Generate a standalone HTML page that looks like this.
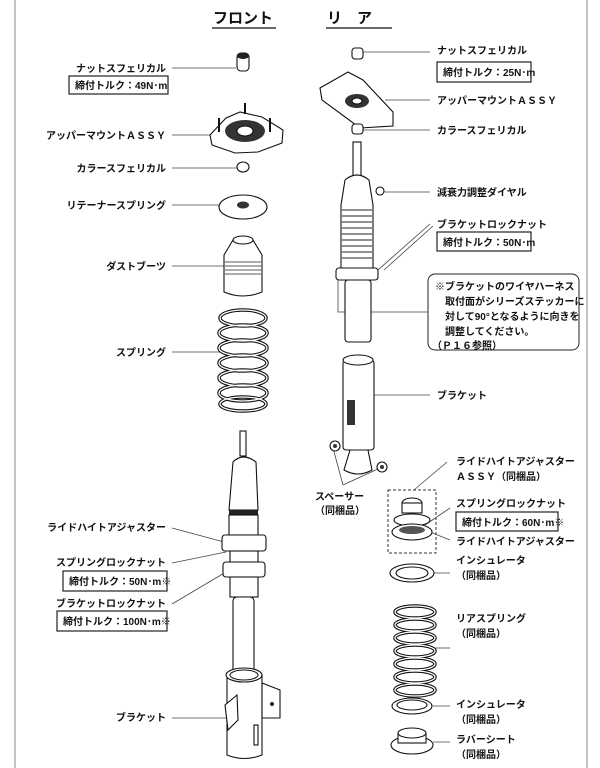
<!DOCTYPE html>
<html><head><meta charset="utf-8"><style>
html,body{margin:0;padding:0;background:#fff;}
svg{display:block}
text{font-family:"Liberation Sans","Noto Sans CJK JP",sans-serif;font-size:10px;fill:#111;font-weight:bold}
.p{fill:#fff;stroke:#111;stroke-width:1.1}
.l{stroke:#444;stroke-width:0.8;fill:none}
.b{fill:#fff;stroke:#222;stroke-width:1.2}
</style></head><body>
<svg width="600" height="768" viewBox="0 0 600 768" xmlns="http://www.w3.org/2000/svg">
<line x1="15" y1="0" x2="15" y2="768" stroke="#888" stroke-width="1"/>
<line x1="587" y1="0" x2="587" y2="768" stroke="#888" stroke-width="1"/>
<text x="213" y="23" style="font-size:15px">フロント</text>
<line x1="212" y1="28" x2="276" y2="28" stroke="#111" stroke-width="1.2"/>
<text x="327" y="23" style="font-size:15px">リ　ア</text>
<line x1="326" y1="28" x2="392" y2="28" stroke="#111" stroke-width="1.2"/>

<!-- LEFT labels -->
<text x="166" y="72" text-anchor="end">ナットスフェリカル</text>
<line class="l" x1="172" y1="68" x2="236" y2="68"/>
<rect class="b" x="69" y="76" width="99" height="18"/><text x="75" y="89">締付トルク：49N･m</text>
<text x="166" y="139" text-anchor="end">アッパーマウントＡＳＳＹ</text>
<line class="l" x1="172" y1="135" x2="210" y2="135"/>
<text x="166" y="172" text-anchor="end">カラースフェリカル</text>
<line class="l" x1="172" y1="168" x2="237" y2="168"/>
<text x="166" y="209" text-anchor="end">リテーナースプリング</text>
<line class="l" x1="172" y1="205" x2="220" y2="205"/>
<text x="166" y="270" text-anchor="end">ダストブーツ</text>
<line class="l" x1="172" y1="266" x2="226" y2="266"/>
<text x="166" y="356" text-anchor="end">スプリング</text>
<line class="l" x1="172" y1="352" x2="220" y2="352"/>
<text x="166" y="531" text-anchor="end">ライドハイトアジャスター</text>
<line class="l" x1="172" y1="528" x2="224" y2="542"/>
<text x="166" y="566" text-anchor="end">スプリングロックナット</text>
<line class="l" x1="172" y1="563" x2="226" y2="552"/>
<rect class="b" x="63" y="571" width="104" height="20"/><text x="69" y="585">締付トルク：50N･m※</text>
<text x="166" y="607" text-anchor="end">ブラケットロックナット</text>
<line class="l" x1="172" y1="604" x2="226" y2="572"/>
<rect class="b" x="57" y="611" width="110" height="20"/><text x="63" y="625">締付トルク：100N･m※</text>
<text x="166" y="721" text-anchor="end">ブラケット</text>
<line class="l" x1="172" y1="718" x2="236" y2="718"/>

<!-- LEFT parts -->
<rect class="p" x="237" y="53" width="12" height="18" rx="4"/>
<ellipse cx="243" cy="56" rx="6" ry="3" fill="#222"/>
<path class="p" d="M210 135 L226 118 L240 112 L262 117 L283 130 L282 143 L258 152 L235 153 L212 145 Z"/>
<ellipse cx="245" cy="131" rx="20" ry="11" fill="#333"/><ellipse cx="245" cy="131" rx="8" ry="5" class="p"/>
<line x1="219" y1="118" x2="219" y2="132" stroke="#111" stroke-width="2"/>
<line x1="270" y1="118" x2="270" y2="132" stroke="#111" stroke-width="2"/>
<line x1="245" y1="103" x2="245" y2="114" stroke="#111" stroke-width="2"/>
<ellipse class="p" cx="243" cy="167" rx="6" ry="5"/>
<ellipse class="p" cx="243" cy="207" rx="24" ry="12"/><ellipse cx="243" cy="205" rx="6" ry="3.5" fill="#333"/>
<path class="p" d="M233 240 L253 240 L262 255 L262 292 Q243 300 224 292 L224 255 Z"/>
<ellipse class="p" cx="243" cy="240" rx="10" ry="4"/>
<g stroke="#222" stroke-width="0.8">
<line x1="225" y1="262" x2="261" y2="262"/><line x1="225" y1="266" x2="261" y2="266"/><line x1="225" y1="270" x2="261" y2="270"/><line x1="225" y1="274" x2="261" y2="274"/></g>
<g fill="none" stroke="#111" stroke-width="3.5">
<ellipse cx="243" cy="318" rx="23" ry="8"/><ellipse cx="243" cy="333" rx="24" ry="8"/>
<ellipse cx="243" cy="348" rx="24" ry="8"/><ellipse cx="243" cy="363" rx="24" ry="8"/>
<ellipse cx="243" cy="378" rx="24" ry="8"/><ellipse cx="243" cy="393" rx="24" ry="8"/>
<ellipse cx="243" cy="404" rx="23" ry="7"/></g>
<g fill="none" stroke="#fff" stroke-width="1.3">
<ellipse cx="243" cy="318" rx="23" ry="8"/><ellipse cx="243" cy="333" rx="24" ry="8"/><ellipse cx="243" cy="348" rx="24" ry="8"/><ellipse cx="243" cy="363" rx="24" ry="8"/><ellipse cx="243" cy="378" rx="24" ry="8"/><ellipse cx="243" cy="393" rx="24" ry="8"/><ellipse cx="243" cy="404" rx="23" ry="7"/></g>
<!-- front shock -->
<rect class="p" x="240" y="431" width="6" height="25"/>
<path class="p" d="M233 462 Q243 452 256 462 L258 510 L229 510 Z"/>
<rect x="229" y="510" width="29" height="5" fill="#222"/>
<rect class="p" x="229" y="515" width="29" height="20"/>
<rect class="p" x="222" y="535" width="44" height="16" rx="3"/>
<rect class="p" x="230" y="551" width="28" height="11"/>
<rect class="p" x="223" y="562" width="42" height="15" rx="3"/>
<rect class="p" x="230" y="577" width="28" height="20"/>
<rect class="p" x="233" y="597" width="21" height="83" rx="4"/>
<rect class="p" x="238" y="680" width="10" height="5"/>
<!-- bracket -->
<path class="p" d="M227 675 L262 675 L262 755 Q244 762 227 755 Z"/>
<ellipse class="p" cx="244" cy="675" rx="18" ry="7"/><ellipse class="p" cx="244" cy="675" rx="14" ry="5"/>
<path class="p" d="M262 683 L280 690 L280 718 L262 718 Z"/><circle cx="272" cy="704" r="2" fill="#222"/>
<path class="p" d="M225 705 L237 695 L238 720 L228 730 Z"/>
<rect class="p" x="254" y="725" width="4" height="20"/>

<!-- RIGHT labels -->
<line class="l" x1="362" y1="52" x2="430" y2="52"/>
<text x="437" y="54">ナットスフェリカル</text>
<rect class="b" x="437" y="62" width="94" height="20"/><text x="443" y="76">締付トルク：25N･m</text>
<line class="l" x1="385" y1="100" x2="430" y2="100"/>
<text x="437" y="104">アッパーマウントＡＳＳＹ</text>
<line class="l" x1="363" y1="130" x2="430" y2="130"/>
<text x="437" y="134">カラースフェリカル</text>
<line class="l" x1="384" y1="192" x2="430" y2="192"/>
<text x="437" y="196">減衰力調整ダイヤル</text>
<text x="437" y="228">ブラケットロックナット</text>
<line class="l" x1="430" y1="224" x2="378" y2="270"/>
<line class="l" x1="433" y1="226" x2="384" y2="270"/>
<rect class="b" x="437" y="232" width="94" height="19"/><text x="443" y="246">締付トルク：50N･m</text>
<rect x="428" y="274" width="151" height="76" rx="7" fill="#fff" stroke="#222" stroke-width="1"/>
<text x="435" y="290">※ブラケットのワイヤハーネス</text>
<text x="445" y="305">取付面がシリーズステッカーに</text>
<text x="445" y="320">対して90°となるように向きを</text>
<text x="445" y="335">調整してください。</text>
<text x="432" y="349">（Ｐ１６参照）</text>
<path class="l" d="M428 312 L338 312 L338 268"/>
<line class="l" x1="368" y1="395" x2="430" y2="395"/>
<text x="437" y="399">ブラケット</text>
<line class="l" x1="333" y1="448" x2="343" y2="485"/>
<line class="l" x1="380" y1="468" x2="343" y2="485"/>
<text x="315" y="500">スペーサー</text>
<text x="315" y="514">（同梱品）</text>
<line class="l" x1="447" y1="462" x2="414" y2="490"/>
<text x="456" y="465">ライドハイトアジャスター</text>
<text x="456" y="480">ＡＳＳＹ（同梱品）</text>
<rect x="388" y="490" width="48" height="63" fill="none" stroke="#333" stroke-dasharray="3,2"/>
<line class="l" x1="450" y1="508" x2="425" y2="525"/>
<text x="456" y="507">スプリングロックナット</text>
<rect class="b" x="456" y="512" width="102" height="19"/><text x="462" y="526">締付トルク：60N･m※</text>
<line class="l" x1="450" y1="540" x2="425" y2="530"/>
<text x="456" y="545">ライドハイトアジャスター</text>
<line class="l" x1="433" y1="573" x2="450" y2="573"/>
<text x="456" y="564">インシュレータ</text><text x="456" y="579">（同梱品）</text>
<line class="l" x1="435" y1="648" x2="450" y2="648"/>
<text x="456" y="622">リアスプリング</text><text x="456" y="637">（同梱品）</text>
<line class="l" x1="433" y1="706" x2="450" y2="706"/>
<text x="456" y="708">インシュレータ</text><text x="456" y="723">（同梱品）</text>
<line class="l" x1="433" y1="742" x2="450" y2="742"/>
<text x="456" y="743">ラバーシート</text><text x="456" y="758">（同梱品）</text>

<!-- RIGHT parts -->
<rect class="p" x="352" y="48" width="11" height="11" rx="3"/>
<path class="p" d="M320 88 L348 72 L363 80 L393 112 L393 126 L360 128 L322 100 Z"/>
<ellipse cx="357" cy="101" rx="12" ry="7" fill="#333"/><ellipse class="p" cx="357" cy="101" rx="5" ry="3"/>
<rect class="p" x="352" y="124" width="11" height="10" rx="3"/>
<rect class="p" x="353" y="142" width="8" height="34"/>
<path class="p" d="M345 180 Q357 170 369 180 L373 205 L373 268 L341 268 L341 205 Z"/>
<g stroke="#222" stroke-width="0.9">
<line x1="342" y1="210" x2="372" y2="210"/><line x1="342" y1="216" x2="372" y2="216"/><line x1="342" y1="222" x2="372" y2="222"/><line x1="342" y1="228" x2="372" y2="228"/><line x1="342" y1="234" x2="372" y2="234"/><line x1="342" y1="240" x2="372" y2="240"/><line x1="342" y1="246" x2="372" y2="246"/><line x1="342" y1="252" x2="372" y2="252"/><line x1="342" y1="258" x2="372" y2="258"/></g>
<circle class="p" cx="380" cy="191" r="4"/>
<rect class="p" x="336" y="268" width="42" height="12" rx="3"/>
<rect class="p" x="345" y="280" width="26" height="62" rx="3"/>
<rect class="p" x="343" y="360" width="31" height="90" rx="3"/>
<ellipse class="p" cx="358" cy="360" rx="15" ry="5"/>
<rect x="347" y="400" width="8" height="25" fill="#333"/>
<path class="p" d="M350 450 L368 450 L372 470 Q358 478 344 470 Z"/>
<circle class="p" cx="335" cy="446" r="5"/><circle cx="335" cy="446" r="2" fill="#333"/>
<circle class="p" cx="382" cy="467" r="5"/><circle cx="382" cy="467" r="2" fill="#333"/>
<ellipse class="p" cx="412" cy="503" rx="10" ry="5"/>
<rect class="p" x="402" y="503" width="20" height="10"/>
<ellipse class="p" cx="412" cy="520" rx="18" ry="6"/>
<ellipse class="p" cx="412" cy="532" rx="20" ry="8"/><ellipse cx="412" cy="530" rx="13" ry="4" fill="#555"/>
<ellipse class="p" cx="412" cy="573" rx="22" ry="9"/><ellipse class="p" cx="412" cy="573" rx="16" ry="6"/>
<g fill="none" stroke="#111" stroke-width="3.5">
<ellipse cx="415" cy="612" rx="20" ry="6"/><ellipse cx="415" cy="625" rx="20" ry="6"/><ellipse cx="415" cy="638" rx="20" ry="6"/><ellipse cx="415" cy="651" rx="20" ry="6"/><ellipse cx="415" cy="664" rx="20" ry="6"/><ellipse cx="415" cy="677" rx="20" ry="6"/><ellipse cx="415" cy="690" rx="20" ry="6"/></g>
<g fill="none" stroke="#fff" stroke-width="1.3">
<ellipse cx="415" cy="612" rx="20" ry="6"/><ellipse cx="415" cy="625" rx="20" ry="6"/><ellipse cx="415" cy="638" rx="20" ry="6"/><ellipse cx="415" cy="651" rx="20" ry="6"/><ellipse cx="415" cy="664" rx="20" ry="6"/><ellipse cx="415" cy="677" rx="20" ry="6"/><ellipse cx="415" cy="690" rx="20" ry="6"/></g>
<ellipse class="p" cx="412" cy="706" rx="20" ry="8"/><ellipse class="p" cx="412" cy="705" rx="15" ry="5"/>
<ellipse class="p" cx="412" cy="745" rx="21" ry="9"/><rect class="p" x="398" y="733" width="28" height="10"/><ellipse class="p" cx="412" cy="733" rx="14" ry="5"/>
</svg>
</body></html>
